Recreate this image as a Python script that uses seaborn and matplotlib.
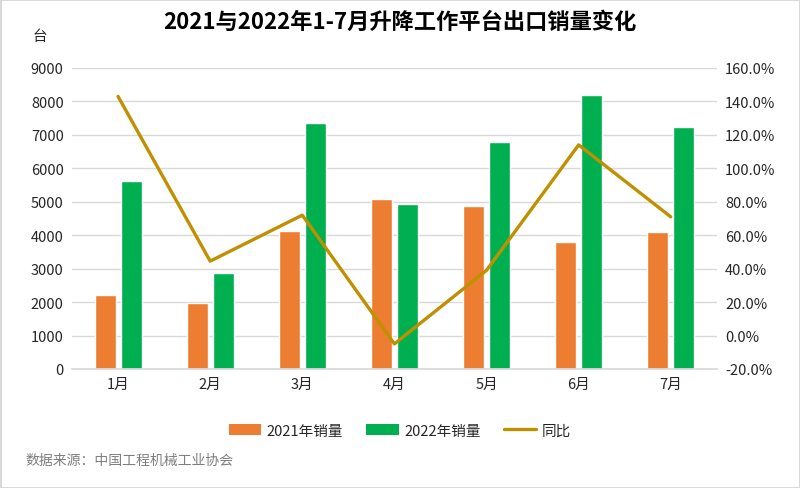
import numpy as np
import pandas as pd
import matplotlib
matplotlib.use("Agg")
import matplotlib.pyplot as plt
import seaborn as sns
from matplotlib.patches import Patch
from matplotlib.lines import Line2D

months = ["1月", "2月", "3月", "4月", "5月", "6月", "7月"]
sales_2021 = [2200, 1960, 4120, 5070, 4860, 3800, 4090]
sales_2022 = [5630, 2870, 7360, 4930, 6790, 8200, 7240]
yoy_pct = [143.0, 44.5, 72.0, -5.0, 39.0, 114.0, 71.0]
series_names = ["2021年销量", "2022年销量"]
line_name = "同比"
left_ticks = list(range(0, 9001, 1000))
right_ticks = list(range(-20, 161, 20))

df = pd.DataFrame({
    "月": months * 2,
    "系列": [series_names[0]] * len(months) + [series_names[1]] * len(months),
    "销量": sales_2021 + sales_2022,
})

sns.set_theme(style="white")
plt.rcParams["font.family"] = ["Noto Sans CJK SC", "DejaVu Sans"]
plt.rcParams["axes.unicode_minus"] = False

c_orange = "#ED7D31"
c_green = "#00B050"
c_line = "#BF9000"
c_grid = "#D9D9D9"
c_text = "#262626"

fig = plt.figure(figsize=(8, 4.89), dpi=100, edgecolor="#D9D9D9", linewidth=2)
ax = fig.add_axes([0.09, 0.2434, 0.806, 0.6155])

sns.barplot(data=df, x="月", y="销量", hue="系列", order=months,
            hue_order=series_names, palette=[c_orange, c_green],
            width=0.565, gap=0.19, saturation=1, ax=ax, legend=False)

ax.set_ylim(0, 9000)
ax.set_yticks(left_ticks)
ax.set_yticklabels([str(t) for t in left_ticks], fontsize=10.5, color=c_text)
ax.yaxis.grid(True, color=c_grid, linewidth=1)
ax.set_axisbelow(True)
ax.set_xlabel("")
ax.set_ylabel("")
ax.tick_params(axis="both", length=0)
ax.tick_params(axis="x", labelsize=10.5, colors=c_text, pad=6)
ax.tick_params(axis="y", pad=6)
for s in ["top", "right", "left"]:
    ax.spines[s].set_visible(False)
ax.spines["bottom"].set_color(c_grid)

ax2 = ax.twinx()
sns.lineplot(x=np.arange(len(months)), y=yoy_pct, color=c_line, linewidth=2.4,
             ax=ax2, legend=False)
ax2.set_ylim(-20, 160)
ax2.set_yticks(right_ticks)
ax2.set_yticklabels([f"{t:.1f}%" for t in right_ticks], fontsize=10.5, color=c_text)
ax2.tick_params(axis="y", length=0, pad=6)
ax2.set_ylabel("")
for s in ["top", "right", "left", "bottom"]:
    ax2.spines[s].set_visible(False)
ax.set_xlim(-0.5, len(months) - 0.5)

fig.text(0.5, 0.955, "2021与2022年1-7月升降工作平台出口销量变化", ha="center", va="center",
         fontsize=16, fontweight="bold", color="#000000")
fig.text(0.05, 0.925, "台", ha="center", va="center", fontsize=10.5, color=c_text)

handles = [Patch(facecolor=c_orange, edgecolor="none"),
           Patch(facecolor=c_green, edgecolor="none"),
           Line2D([0], [0], color=c_line, linewidth=2.4)]
fig.legend(handles, series_names + [line_name], loc="center", bbox_to_anchor=(0.5, 0.117),
           ncol=3, frameon=False, fontsize=10.5, handlelength=2.2, handleheight=0.8,
           columnspacing=1.6, handletextpad=0.4, labelcolor=c_text)

fig.text(0.032, 0.058, "数据来源：中国工程机械工业协会", ha="left", va="center",
         fontsize=10, color="#7F7F7F")

fig.savefig("out.png", dpi=100)
